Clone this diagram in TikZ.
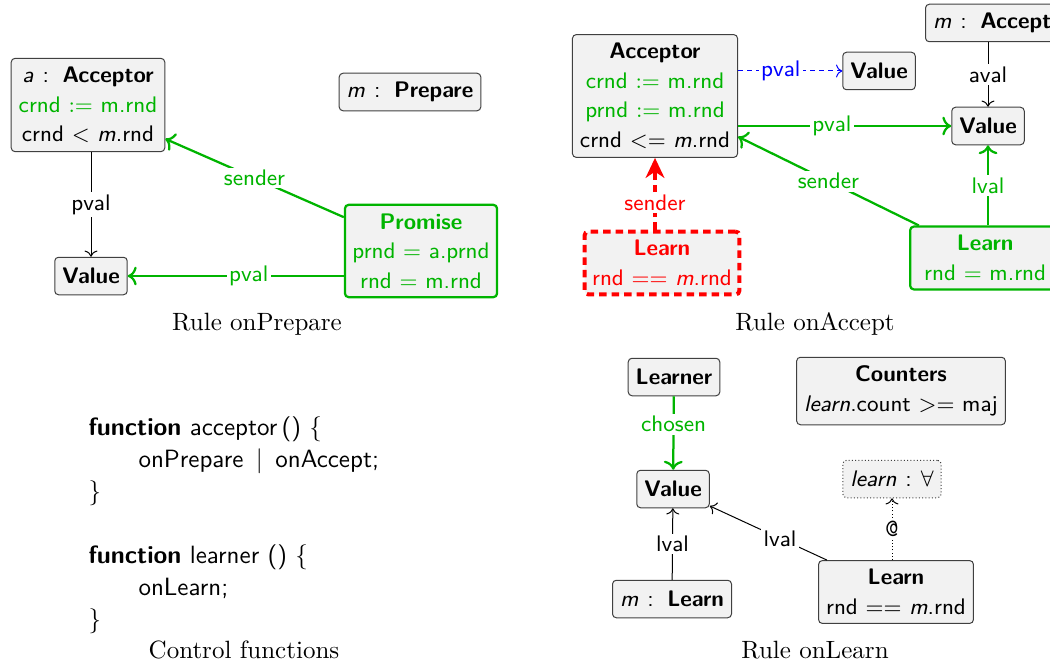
\documentclass[tikz,border=0pt]{standalone}
\usepackage{amsmath, amssymb}
\usetikzlibrary{arrows.meta}
\definecolor{creator}{RGB}{0,180,0}
\definecolor{embargo}{RGB}{255,0,0}
\definecolor{eraser}{RGB}{0,0,255}
\definecolor{boxfill}{RGB}{242,242,242}
\newcommand{\typed}[2]{\textit{#1}\hspace{0.4em}:\hspace{0.6em}\textbf{#2}}

\begin{document}
\begin{tikzpicture}[x=0.4pt,y=-0.4pt,>={To},
	every node/.style={font=\fontsize{9}{11.8}\selectfont\sffamily},
	box/.style={draw=black!75,fill=boxfill,rounded corners=1.5pt,align=center,inner xsep=3pt,inner ysep=3.5pt,minimum height=15pt},
	newbox/.style={box,draw=creator,text=creator,line width=0.9pt},
	notbox/.style={box,draw=embargo,text=embargo,line width=1.6pt,dash pattern=on 3pt off 2pt},
	quantbox/.style={box,dash pattern=on 0.4pt off 0.9pt},
	newedge/.style={creator,line width=0.9pt},
	deledge/.style={eraser,dash pattern=on 2pt off 1.6pt},
	notedge/.style={embargo,line width=1.6pt,dash pattern=on 3pt off 2pt},
	lab/.style={fill=white,inner sep=1pt},
	caption/.style={font=\normalsize\rmfamily},
	code/.style={font=\fontsize{10}{12.8}\selectfont\sffamily,align=left,inner sep=0pt}]
	\useasboundingbox (0,0) rectangle (1050,666);
	% onPrepare
	\node[box] (accP) at (88,105) {\typed{a}{Acceptor}\\ \textcolor{creator}{crnd $:=$ m.rnd}\\ crnd $<$ \textit{m}.rnd};
	\node[box] (prepMsg) at (410,92) {\typed{m}{Prepare}};
	\node[box] (valP) at (91,276) {\textbf{Value}};
	\node[newbox] (promise) at (421,251) {\textbf{Promise}\\ prnd $=$ a.prnd\\ rnd $=$ m.rnd};
	\draw[->] (valP |- accP.south) -- node[lab]{pval} (valP);
	\draw[newedge,->] (promise) -- node[lab]{sender} (accP);
	\draw[newedge,->] (valP -| promise.west) -- node[lab,pos=0.44]{pval} (valP);
	\node[caption] (capPrepare) at (257,324) {Rule onPrepare};
	% onAccept
	\node[box] (accA) at (655,96) {\textbf{Acceptor}\\ \textcolor{creator}{crnd $:=$ m.rnd}\\ \textcolor{creator}{prnd $:=$ m.rnd}\\ crnd $<=$ \textit{m}.rnd};
	\node[box] (valOld) at (879,71) {\textbf{Value}};
	\node[box,anchor=west] (acceptMsg) at (925,23) {\typed{m}{Accept}};
	\node[box] (valNew) at (988,126) {\textbf{Value}};
	\node[newbox,anchor=west,minimum width=60pt] (learnA) at (909,258) {\textbf{Learn}\\ rnd $=$ m.rnd};
	\node[notbox] (learnNot) at (662,263) {\textbf{Learn}\\ rnd $==$ \textit{m}.rnd};
	\draw[deledge,->] (accA.east |- valOld) -- node[lab,pos=0.41]{pval} (valOld);
	\draw[newedge,->] (accA.east |- valNew) -- node[lab,pos=0.44]{pval} (valNew);
	\draw[->] (valNew |- acceptMsg.south) -- node[lab]{aval} (valNew);
	\draw[newedge,->] (valNew |- learnA.north) -- node[lab]{lval} (valNew);
	\draw[newedge,->] (learnA) -- node[lab]{sender} (accA);
	\draw[notedge,-{Stealth[length=8pt,width=7.5pt,inset=2.5pt]}] (accA |- learnNot.north) -- node[lab,pos=0.37]{sender} (accA.south);
	\node[caption] (capAccept) at (815,324) {Rule onAccept};
	% control functions
	\node[code,anchor=north west] (ctl) at (88,416) {\textbf{function} acceptor\,() \{\\ \hspace*{2em}onPrepare\, $\mid$ \,onAccept;\\ \}\\[12.8pt] \textbf{function} learner () \{\\ \hspace*{2em}onLearn;\\ \}};
	\node[caption] (capControl) at (244,650) {Control functions};
	% onLearn
	\node[box] (learner) at (674,377) {\textbf{Learner}};
	\node[box] (counters) at (901,391) {\textbf{Counters}\\ \textit{learn}.count $>=$ maj};
	\node[box] (valL) at (673,489) {\textbf{Value}};
	\node[quantbox] (forall) at (892,479) {\textit{learn}\hspace{0.4em}:\hspace{0.4em}$\forall$};
	\node[box] (learnL) at (896,592) {\textbf{Learn}\\ rnd $==$ \textit{m}.rnd};
	\node[box] (msgL) at (672,599) {\typed{m}{Learn}};
	\draw[newedge,->] (learner) -- node[lab,pos=0.38]{chosen} (valL);
	\draw[->] (msgL) -- node[lab]{lval} (valL);
	\draw[->] (learnL) -- node[lab,pos=0.4]{lval} (valL);
	\draw[dash pattern=on 0.4pt off 0.9pt,->] (forall |- learnL.north) -- node[lab]{\fontsize{10}{12}\selectfont\texttt{@}} (forall);
	\node[caption] (capLearn) at (815,650) {Rule onLearn};
\end{tikzpicture}
\end{document}
